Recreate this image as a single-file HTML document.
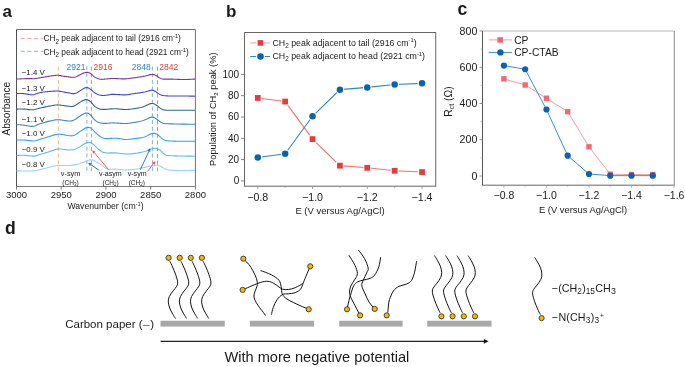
<!DOCTYPE html>
<html><head><meta charset="utf-8"><style>
html,body{margin:0;padding:0;background:#fff;}
svg{display:block;will-change:transform;}
text{font-family:"Liberation Sans", sans-serif;}
</style></head><body>
<svg width="685" height="367" viewBox="0 0 685 367">
<rect width="685" height="367" fill="#fff"/>
<g fill="#1a1a1a">
<text x="2.6" y="16.6" font-size="17" font-weight="bold">a</text>
<line x1="16.5" y1="29.5" x2="195.4" y2="29.5" stroke="#6a6a6a" stroke-width="1"/>
<line x1="195.4" y1="29.5" x2="195.4" y2="186.5" stroke="#707070" stroke-width="1"/>
<line x1="16.5" y1="186.5" x2="195.4" y2="186.5" stroke="#808080" stroke-width="1.1"/>
<line x1="16.5" y1="29.5" x2="16.5" y2="186.5" stroke="#505050" stroke-width="1"/>
<line x1="58.3" y1="66.5" x2="58.3" y2="172.3" stroke="#f7b47e" stroke-dasharray="4,2.7" stroke-width="1"/>
<line x1="86.9" y1="66.2" x2="86.9" y2="172.3" stroke="#80b4dc" stroke-dasharray="4,2.7" stroke-width="1"/>
<line x1="91.4" y1="66.6" x2="91.4" y2="172.3" stroke="#f38080" stroke-dasharray="4,2.7" stroke-width="1"/>
<line x1="152.4" y1="66.4" x2="152.4" y2="172.3" stroke="#80b4dc" stroke-dasharray="4,2.7" stroke-width="1"/>
<line x1="157.5" y1="66.8" x2="157.5" y2="172.3" stroke="#f38080" stroke-dasharray="4,2.7" stroke-width="1"/>
<path d="M16.50,79.07 L17.50,79.03 L18.50,78.98 L19.50,78.93 L20.50,78.87 L21.50,78.82 L22.50,78.77 L23.50,78.72 L24.50,78.68 L25.50,78.65 L26.50,78.63 L27.50,78.61 L28.50,78.61 L29.50,78.62 L30.50,78.64 L31.50,78.67 L32.50,78.69 L33.50,78.69 L34.50,78.64 L35.50,78.55 L36.50,78.41 L37.50,78.24 L38.50,78.07 L39.50,77.91 L40.50,77.74 L41.50,77.58 L42.50,77.41 L43.50,77.25 L44.50,77.08 L45.50,76.91 L46.50,76.75 L47.50,76.58 L48.50,76.41 L49.50,76.24 L50.50,76.07 L51.50,75.91 L52.50,75.75 L53.50,75.59 L54.50,75.45 L55.50,75.33 L56.50,75.25 L57.50,75.25 L58.50,75.32 L59.50,75.46 L60.50,75.65 L61.50,75.85 L62.50,76.04 L63.50,76.21 L64.50,76.37 L65.50,76.51 L66.50,76.65 L67.50,76.78 L68.50,76.90 L69.50,77.02 L70.50,77.13 L71.50,77.23 L72.50,77.31 L73.50,77.32 L74.50,77.20 L75.50,76.94 L76.50,76.53 L77.50,76.04 L78.50,75.51 L79.50,74.98 L80.50,74.48 L81.50,74.00 L82.50,73.55 L83.50,73.13 L84.50,72.76 L85.50,72.48 L86.50,72.32 L87.50,72.33 L88.50,72.54 L89.50,72.96 L90.50,73.57 L91.50,74.34 L92.50,75.21 L93.50,76.08 L94.50,76.86 L95.50,77.51 L96.50,78.04 L97.50,78.48 L98.50,78.83 L99.50,79.09 L100.50,79.26 L101.50,79.33 L102.50,79.31 L103.50,79.24 L104.50,79.15 L105.50,79.06 L106.50,78.96 L107.50,78.87 L108.50,78.77 L109.50,78.68 L110.50,78.61 L111.50,78.56 L112.50,78.53 L113.50,78.52 L114.50,78.54 L115.50,78.57 L116.50,78.61 L117.50,78.66 L118.50,78.72 L119.50,78.77 L120.50,78.82 L121.50,78.86 L122.50,78.89 L123.50,78.90 L124.50,78.88 L125.50,78.84 L126.50,78.78 L127.50,78.68 L128.50,78.57 L129.50,78.44 L130.50,78.30 L131.50,78.15 L132.50,78.00 L133.50,77.86 L134.50,77.72 L135.50,77.59 L136.50,77.46 L137.50,77.33 L138.50,77.19 L139.50,77.05 L140.50,76.91 L141.50,76.75 L142.50,76.59 L143.50,76.40 L144.50,76.19 L145.50,75.96 L146.50,75.70 L147.50,75.44 L148.50,75.16 L149.50,74.89 L150.50,74.65 L151.50,74.48 L152.50,74.45 L153.50,74.58 L154.50,74.85 L155.50,75.26 L156.50,75.81 L157.50,76.47 L158.50,77.19 L159.50,77.85 L160.50,78.39 L161.50,78.77 L162.50,79.00 L163.50,79.12 L164.50,79.17 L165.50,79.17 L166.50,79.16 L167.50,79.13 L168.50,79.11 L169.50,79.10 L170.50,79.11 L171.50,79.13 L172.50,79.16 L173.50,79.20 L174.50,79.23 L175.50,79.27 L176.50,79.31 L177.50,79.35 L178.50,79.39 L179.50,79.42 L180.50,79.45 L181.50,79.47 L182.50,79.48 L183.50,79.49 L184.50,79.49 L185.50,79.48 L186.50,79.45 L187.50,79.43 L188.50,79.39 L189.50,79.35 L190.50,79.31 L191.50,79.26 L192.50,79.22 L193.50,79.17 L194.50,79.14 L195.00,79.12" fill="none" stroke="#7b3a92" stroke-width="1.1" stroke-linejoin="round"/>
<path d="M16.50,93.59 L17.50,93.57 L18.50,93.55 L19.50,93.53 L20.50,93.52 L21.50,93.52 L22.50,93.55 L23.50,93.61 L24.50,93.70 L25.50,93.83 L26.50,93.98 L27.50,94.16 L28.50,94.34 L29.50,94.52 L30.50,94.67 L31.50,94.78 L32.50,94.81 L33.50,94.72 L34.50,94.48 L35.50,94.10 L36.50,93.66 L37.50,93.25 L38.50,92.93 L39.50,92.69 L40.50,92.50 L41.50,92.34 L42.50,92.19 L43.50,92.06 L44.50,91.94 L45.50,91.82 L46.50,91.71 L47.50,91.61 L48.50,91.51 L49.50,91.43 L50.50,91.35 L51.50,91.28 L52.50,91.21 L53.50,91.15 L54.50,91.10 L55.50,91.05 L56.50,91.03 L57.50,91.03 L58.50,91.10 L59.50,91.23 L60.50,91.40 L61.50,91.58 L62.50,91.77 L63.50,91.97 L64.50,92.16 L65.50,92.35 L66.50,92.53 L67.50,92.71 L68.50,92.89 L69.50,93.08 L70.50,93.28 L71.50,93.46 L72.50,93.60 L73.50,93.65 L74.50,93.57 L75.50,93.34 L76.50,92.95 L77.50,92.43 L78.50,91.82 L79.50,91.16 L80.50,90.49 L81.50,89.84 L82.50,89.21 L83.50,88.61 L84.50,88.08 L85.50,87.70 L86.50,87.55 L87.50,87.67 L88.50,88.05 L89.50,88.61 L90.50,89.32 L91.50,90.12 L92.50,90.98 L93.50,91.82 L94.50,92.58 L95.50,93.23 L96.50,93.79 L97.50,94.25 L98.50,94.65 L99.50,94.97 L100.50,95.22 L101.50,95.38 L102.50,95.45 L103.50,95.46 L104.50,95.41 L105.50,95.31 L106.50,95.18 L107.50,95.01 L108.50,94.84 L109.50,94.67 L110.50,94.53 L111.50,94.42 L112.50,94.35 L113.50,94.33 L114.50,94.34 L115.50,94.38 L116.50,94.44 L117.50,94.52 L118.50,94.59 L119.50,94.67 L120.50,94.75 L121.50,94.81 L122.50,94.86 L123.50,94.88 L124.50,94.87 L125.50,94.83 L126.50,94.75 L127.50,94.65 L128.50,94.51 L129.50,94.35 L130.50,94.18 L131.50,94.00 L132.50,93.83 L133.50,93.67 L134.50,93.52 L135.50,93.38 L136.50,93.25 L137.50,93.11 L138.50,92.98 L139.50,92.84 L140.50,92.70 L141.50,92.55 L142.50,92.39 L143.50,92.20 L144.50,92.00 L145.50,91.77 L146.50,91.51 L147.50,91.23 L148.50,90.93 L149.50,90.61 L150.50,90.32 L151.50,90.15 L152.50,90.19 L153.50,90.48 L154.50,90.97 L155.50,91.58 L156.50,92.23 L157.50,92.92 L158.50,93.60 L159.50,94.22 L160.50,94.72 L161.50,95.10 L162.50,95.37 L163.50,95.55 L164.50,95.68 L165.50,95.77 L166.50,95.84 L167.50,95.89 L168.50,95.93 L169.50,95.96 L170.50,95.99 L171.50,96.02 L172.50,96.03 L173.50,96.04 L174.50,96.05 L175.50,96.05 L176.50,96.04 L177.50,96.03 L178.50,96.02 L179.50,96.02 L180.50,96.01 L181.50,96.00 L182.50,96.00 L183.50,96.00 L184.50,96.01 L185.50,96.02 L186.50,96.03 L187.50,96.05 L188.50,96.07 L189.50,96.09 L190.50,96.11 L191.50,96.13 L192.50,96.15 L193.50,96.17 L194.50,96.18 L195.00,96.19" fill="none" stroke="#4444d2" stroke-width="1.1" stroke-linejoin="round"/>
<path d="M16.50,109.09 L17.50,109.08 L18.50,109.07 L19.50,109.06 L20.50,109.06 L21.50,109.06 L22.50,109.07 L23.50,109.10 L24.50,109.15 L25.50,109.23 L26.50,109.31 L27.50,109.41 L28.50,109.51 L29.50,109.61 L30.50,109.69 L31.50,109.74 L32.50,109.75 L33.50,109.70 L34.50,109.55 L35.50,109.32 L36.50,109.04 L37.50,108.75 L38.50,108.48 L39.50,108.23 L40.50,108.00 L41.50,107.78 L42.50,107.55 L43.50,107.34 L44.50,107.12 L45.50,106.91 L46.50,106.70 L47.50,106.50 L48.50,106.31 L49.50,106.11 L50.50,105.92 L51.50,105.73 L52.50,105.55 L53.50,105.37 L54.50,105.21 L55.50,105.07 L56.50,104.96 L57.50,104.91 L58.50,104.94 L59.50,105.03 L60.50,105.16 L61.50,105.30 L62.50,105.43 L63.50,105.57 L64.50,105.71 L65.50,105.84 L66.50,105.97 L67.50,106.08 L68.50,106.20 L69.50,106.31 L70.50,106.40 L71.50,106.44 L72.50,106.37 L73.50,106.15 L74.50,105.75 L75.50,105.22 L76.50,104.57 L77.50,103.88 L78.50,103.18 L79.50,102.51 L80.50,101.88 L81.50,101.30 L82.50,100.77 L83.50,100.28 L84.50,99.87 L85.50,99.60 L86.50,99.52 L87.50,99.69 L88.50,100.14 L89.50,100.84 L90.50,101.74 L91.50,102.80 L92.50,103.95 L93.50,105.07 L94.50,106.06 L95.50,106.87 L96.50,107.53 L97.50,108.07 L98.50,108.50 L99.50,108.86 L100.50,109.13 L101.50,109.31 L102.50,109.40 L103.50,109.42 L104.50,109.40 L105.50,109.36 L106.50,109.29 L107.50,109.20 L108.50,109.10 L109.50,109.00 L110.50,108.91 L111.50,108.83 L112.50,108.77 L113.50,108.73 L114.50,108.73 L115.50,108.76 L116.50,108.81 L117.50,108.89 L118.50,108.98 L119.50,109.07 L120.50,109.17 L121.50,109.27 L122.50,109.35 L123.50,109.42 L124.50,109.47 L125.50,109.50 L126.50,109.50 L127.50,109.47 L128.50,109.40 L129.50,109.31 L130.50,109.20 L131.50,109.07 L132.50,108.93 L133.50,108.78 L134.50,108.63 L135.50,108.46 L136.50,108.29 L137.50,108.12 L138.50,107.93 L139.50,107.72 L140.50,107.50 L141.50,107.24 L142.50,106.95 L143.50,106.61 L144.50,106.22 L145.50,105.80 L146.50,105.35 L147.50,104.89 L148.50,104.44 L149.50,104.01 L150.50,103.64 L151.50,103.43 L152.50,103.45 L153.50,103.69 L154.50,104.11 L155.50,104.64 L156.50,105.25 L157.50,105.94 L158.50,106.73 L159.50,107.58 L160.50,108.40 L161.50,109.07 L162.50,109.56 L163.50,109.87 L164.50,110.06 L165.50,110.16 L166.50,110.21 L167.50,110.23 L168.50,110.23 L169.50,110.22 L170.50,110.21 L171.50,110.20 L172.50,110.20 L173.50,110.20 L174.50,110.21 L175.50,110.22 L176.50,110.22 L177.50,110.23 L178.50,110.23 L179.50,110.23 L180.50,110.23 L181.50,110.23 L182.50,110.23 L183.50,110.23 L184.50,110.23 L185.50,110.22 L186.50,110.22 L187.50,110.22 L188.50,110.22 L189.50,110.21 L190.50,110.21 L191.50,110.21 L192.50,110.20 L193.50,110.20 L194.50,110.20 L195.00,110.20" fill="none" stroke="#2e6592" stroke-width="1.1" stroke-linejoin="round"/>
<path d="M16.50,124.64 L17.50,124.68 L18.50,124.74 L19.50,124.81 L20.50,124.89 L21.50,124.97 L22.50,125.07 L23.50,125.17 L24.50,125.30 L25.50,125.46 L26.50,125.63 L27.50,125.81 L28.50,125.99 L29.50,126.16 L30.50,126.30 L31.50,126.40 L32.50,126.42 L33.50,126.32 L34.50,126.07 L35.50,125.67 L36.50,125.19 L37.50,124.71 L38.50,124.29 L39.50,123.92 L40.50,123.59 L41.50,123.28 L42.50,122.98 L43.50,122.69 L44.50,122.41 L45.50,122.13 L46.50,121.86 L47.50,121.61 L48.50,121.36 L49.50,121.12 L50.50,120.89 L51.50,120.67 L52.50,120.46 L53.50,120.26 L54.50,120.07 L55.50,119.90 L56.50,119.77 L57.50,119.69 L58.50,119.68 L59.50,119.76 L60.50,119.88 L61.50,120.02 L62.50,120.17 L63.50,120.33 L64.50,120.49 L65.50,120.64 L66.50,120.78 L67.50,120.89 L68.50,120.96 L69.50,121.00 L70.50,120.98 L71.50,120.88 L72.50,120.66 L73.50,120.31 L74.50,119.82 L75.50,119.22 L76.50,118.53 L77.50,117.79 L78.50,117.05 L79.50,116.34 L80.50,115.68 L81.50,115.05 L82.50,114.47 L83.50,113.93 L84.50,113.47 L85.50,113.13 L86.50,112.97 L87.50,113.04 L88.50,113.39 L89.50,114.03 L90.50,114.95 L91.50,116.10 L92.50,117.39 L93.50,118.66 L94.50,119.78 L95.50,120.67 L96.50,121.35 L97.50,121.89 L98.50,122.32 L99.50,122.67 L100.50,122.95 L101.50,123.16 L102.50,123.30 L103.50,123.36 L104.50,123.38 L105.50,123.37 L106.50,123.33 L107.50,123.27 L108.50,123.20 L109.50,123.12 L110.50,123.05 L111.50,122.99 L112.50,122.95 L113.50,122.92 L114.50,122.93 L115.50,122.96 L116.50,123.01 L117.50,123.08 L118.50,123.17 L119.50,123.25 L120.50,123.34 L121.50,123.42 L122.50,123.49 L123.50,123.54 L124.50,123.57 L125.50,123.56 L126.50,123.52 L127.50,123.44 L128.50,123.32 L129.50,123.18 L130.50,123.03 L131.50,122.87 L132.50,122.72 L133.50,122.56 L134.50,122.41 L135.50,122.24 L136.50,122.08 L137.50,121.90 L138.50,121.72 L139.50,121.52 L140.50,121.29 L141.50,121.04 L142.50,120.75 L143.50,120.42 L144.50,120.03 L145.50,119.61 L146.50,119.16 L147.50,118.70 L148.50,118.22 L149.50,117.75 L150.50,117.33 L151.50,117.08 L152.50,117.08 L153.50,117.34 L154.50,117.80 L155.50,118.37 L156.50,119.01 L157.50,119.70 L158.50,120.46 L159.50,121.26 L160.50,122.01 L161.50,122.63 L162.50,123.08 L163.50,123.38 L164.50,123.57 L165.50,123.69 L166.50,123.76 L167.50,123.80 L168.50,123.82 L169.50,123.83 L170.50,123.85 L171.50,123.86 L172.50,123.88 L173.50,123.91 L174.50,123.93 L175.50,123.96 L176.50,123.98 L177.50,124.00 L178.50,124.02 L179.50,124.04 L180.50,124.06 L181.50,124.08 L182.50,124.10 L183.50,124.12 L184.50,124.13 L185.50,124.15 L186.50,124.16 L187.50,124.18 L188.50,124.20 L189.50,124.21 L190.50,124.23 L191.50,124.24 L192.50,124.26 L193.50,124.27 L194.50,124.29 L195.00,124.29" fill="none" stroke="#3f86c6" stroke-width="1.1" stroke-linejoin="round"/>
<path d="M16.50,139.99 L17.50,139.98 L18.50,139.96 L19.50,139.94 L20.50,139.93 L21.50,139.94 L22.50,139.96 L23.50,140.00 L24.50,140.07 L25.50,140.16 L26.50,140.27 L27.50,140.39 L28.50,140.52 L29.50,140.65 L30.50,140.77 L31.50,140.88 L32.50,140.97 L33.50,141.02 L34.50,140.99 L35.50,140.83 L36.50,140.54 L37.50,140.16 L38.50,139.79 L39.50,139.45 L40.50,139.14 L41.50,138.84 L42.50,138.55 L43.50,138.25 L44.50,137.96 L45.50,137.67 L46.50,137.38 L47.50,137.09 L48.50,136.78 L49.50,136.46 L50.50,136.13 L51.50,135.79 L52.50,135.46 L53.50,135.15 L54.50,134.87 L55.50,134.63 L56.50,134.44 L57.50,134.30 L58.50,134.24 L59.50,134.23 L60.50,134.29 L61.50,134.40 L62.50,134.54 L63.50,134.71 L64.50,134.89 L65.50,135.08 L66.50,135.26 L67.50,135.43 L68.50,135.58 L69.50,135.70 L70.50,135.81 L71.50,135.86 L72.50,135.79 L73.50,135.55 L74.50,135.16 L75.50,134.62 L76.50,133.97 L77.50,133.27 L78.50,132.55 L79.50,131.84 L80.50,131.15 L81.50,130.49 L82.50,129.84 L83.50,129.20 L84.50,128.59 L85.50,128.05 L86.50,127.62 L87.50,127.34 L88.50,127.27 L89.50,127.44 L90.50,127.87 L91.50,128.56 L92.50,129.46 L93.50,130.49 L94.50,131.53 L95.50,132.53 L96.50,133.48 L97.50,134.38 L98.50,135.23 L99.50,136.01 L100.50,136.72 L101.50,137.34 L102.50,137.85 L103.50,138.22 L104.50,138.45 L105.50,138.57 L106.50,138.61 L107.50,138.60 L108.50,138.55 L109.50,138.48 L110.50,138.40 L111.50,138.33 L112.50,138.27 L113.50,138.23 L114.50,138.21 L115.50,138.24 L116.50,138.30 L117.50,138.39 L118.50,138.51 L119.50,138.66 L120.50,138.81 L121.50,138.97 L122.50,139.12 L123.50,139.25 L124.50,139.36 L125.50,139.44 L126.50,139.47 L127.50,139.46 L128.50,139.40 L129.50,139.31 L130.50,139.19 L131.50,139.05 L132.50,138.90 L133.50,138.76 L134.50,138.63 L135.50,138.50 L136.50,138.38 L137.50,138.26 L138.50,138.13 L139.50,138.00 L140.50,137.85 L141.50,137.69 L142.50,137.50 L143.50,137.28 L144.50,136.99 L145.50,136.61 L146.50,136.12 L147.50,135.55 L148.50,134.95 L149.50,134.40 L150.50,133.95 L151.50,133.61 L152.50,133.39 L153.50,133.31 L154.50,133.38 L155.50,133.61 L156.50,134.01 L157.50,134.60 L158.50,135.36 L159.50,136.25 L160.50,137.19 L161.50,138.10 L162.50,138.91 L163.50,139.56 L164.50,140.05 L165.50,140.41 L166.50,140.65 L167.50,140.81 L168.50,140.90 L169.50,140.96 L170.50,141.00 L171.50,141.04 L172.50,141.07 L173.50,141.10 L174.50,141.14 L175.50,141.16 L176.50,141.19 L177.50,141.20 L178.50,141.22 L179.50,141.23 L180.50,141.24 L181.50,141.25 L182.50,141.26 L183.50,141.26 L184.50,141.27 L185.50,141.27 L186.50,141.27 L187.50,141.28 L188.50,141.28 L189.50,141.28 L190.50,141.28 L191.50,141.29 L192.50,141.29 L193.50,141.29 L194.50,141.30 L195.00,141.30" fill="none" stroke="#35a0ee" stroke-width="1.1" stroke-linejoin="round"/>
<path d="M16.50,155.48 L17.50,155.44 L18.50,155.40 L19.50,155.35 L20.50,155.32 L21.50,155.30 L22.50,155.29 L23.50,155.31 L24.50,155.36 L25.50,155.42 L26.50,155.51 L27.50,155.61 L28.50,155.72 L29.50,155.83 L30.50,155.94 L31.50,156.03 L32.50,156.10 L33.50,156.14 L34.50,156.09 L35.50,155.93 L36.50,155.63 L37.50,155.26 L38.50,154.89 L39.50,154.57 L40.50,154.28 L41.50,154.00 L42.50,153.72 L43.50,153.44 L44.50,153.16 L45.50,152.88 L46.50,152.59 L47.50,152.28 L48.50,151.95 L49.50,151.61 L50.50,151.24 L51.50,150.87 L52.50,150.50 L53.50,150.15 L54.50,149.82 L55.50,149.54 L56.50,149.30 L57.50,149.12 L58.50,149.02 L59.50,148.98 L60.50,149.00 L61.50,149.07 L62.50,149.18 L63.50,149.31 L64.50,149.46 L65.50,149.61 L66.50,149.75 L67.50,149.87 L68.50,149.96 L69.50,150.01 L70.50,150.02 L71.50,149.97 L72.50,149.84 L73.50,149.62 L74.50,149.31 L75.50,148.93 L76.50,148.50 L77.50,148.02 L78.50,147.51 L79.50,146.97 L80.50,146.39 L81.50,145.75 L82.50,145.06 L83.50,144.36 L84.50,143.72 L85.50,143.19 L86.50,142.79 L87.50,142.53 L88.50,142.39 L89.50,142.37 L90.50,142.57 L91.50,143.01 L92.50,143.69 L93.50,144.53 L94.50,145.44 L95.50,146.38 L96.50,147.34 L97.50,148.30 L98.50,149.21 L99.50,150.06 L100.50,150.82 L101.50,151.47 L102.50,151.99 L103.50,152.38 L104.50,152.64 L105.50,152.80 L106.50,152.89 L107.50,152.93 L108.50,152.93 L109.50,152.92 L110.50,152.90 L111.50,152.88 L112.50,152.87 L113.50,152.87 L114.50,152.88 L115.50,152.92 L116.50,152.99 L117.50,153.08 L118.50,153.19 L119.50,153.30 L120.50,153.43 L121.50,153.55 L122.50,153.68 L123.50,153.79 L124.50,153.88 L125.50,153.95 L126.50,154.00 L127.50,154.02 L128.50,154.02 L129.50,153.99 L130.50,153.94 L131.50,153.86 L132.50,153.76 L133.50,153.64 L134.50,153.51 L135.50,153.36 L136.50,153.20 L137.50,153.03 L138.50,152.85 L139.50,152.66 L140.50,152.46 L141.50,152.25 L142.50,152.03 L143.50,151.80 L144.50,151.54 L145.50,151.24 L146.50,150.90 L147.50,150.51 L148.50,150.11 L149.50,149.70 L150.50,149.31 L151.50,148.96 L152.50,148.64 L153.50,148.40 L154.50,148.25 L155.50,148.23 L156.50,148.37 L157.50,148.69 L158.50,149.19 L159.50,149.87 L160.50,150.69 L161.50,151.62 L162.50,152.58 L163.50,153.48 L164.50,154.23 L165.50,154.79 L166.50,155.18 L167.50,155.43 L168.50,155.57 L169.50,155.65 L170.50,155.70 L171.50,155.74 L172.50,155.77 L173.50,155.81 L174.50,155.84 L175.50,155.87 L176.50,155.90 L177.50,155.93 L178.50,155.95 L179.50,155.97 L180.50,155.99 L181.50,156.01 L182.50,156.02 L183.50,156.04 L184.50,156.05 L185.50,156.07 L186.50,156.08 L187.50,156.10 L188.50,156.11 L189.50,156.12 L190.50,156.14 L191.50,156.15 L192.50,156.16 L193.50,156.18 L194.50,156.19 L195.00,156.19" fill="none" stroke="#62b8f2" stroke-width="1.1" stroke-linejoin="round"/>
<path d="M16.50,170.82 L17.50,170.84 L18.50,170.87 L19.50,170.91 L20.50,170.94 L21.50,170.96 L22.50,170.98 L23.50,170.99 L24.50,171.00 L25.50,171.01 L26.50,171.01 L27.50,171.02 L28.50,171.02 L29.50,171.01 L30.50,170.99 L31.50,170.97 L32.50,170.92 L33.50,170.85 L34.50,170.76 L35.50,170.63 L36.50,170.47 L37.50,170.27 L38.50,170.05 L39.50,169.81 L40.50,169.55 L41.50,169.30 L42.50,169.05 L43.50,168.80 L44.50,168.55 L45.50,168.29 L46.50,168.03 L47.50,167.77 L48.50,167.52 L49.50,167.27 L50.50,167.03 L51.50,166.78 L52.50,166.53 L53.50,166.29 L54.50,166.07 L55.50,165.87 L56.50,165.71 L57.50,165.58 L58.50,165.50 L59.50,165.45 L60.50,165.43 L61.50,165.43 L62.50,165.45 L63.50,165.47 L64.50,165.49 L65.50,165.51 L66.50,165.52 L67.50,165.51 L68.50,165.48 L69.50,165.43 L70.50,165.35 L71.50,165.26 L72.50,165.14 L73.50,165.00 L74.50,164.84 L75.50,164.66 L76.50,164.46 L77.50,164.22 L78.50,163.96 L79.50,163.67 L80.50,163.35 L81.50,163.01 L82.50,162.66 L83.50,162.29 L84.50,161.89 L85.50,161.48 L86.50,161.06 L87.50,160.65 L88.50,160.30 L89.50,160.03 L90.50,159.88 L91.50,159.87 L92.50,160.01 L93.50,160.31 L94.50,160.74 L95.50,161.28 L96.50,161.87 L97.50,162.47 L98.50,163.06 L99.50,163.65 L100.50,164.24 L101.50,164.87 L102.50,165.59 L103.50,166.42 L104.50,167.32 L105.50,168.15 L106.50,168.79 L107.50,169.19 L108.50,169.38 L109.50,169.43 L110.50,169.39 L111.50,169.32 L112.50,169.24 L113.50,169.17 L114.50,169.13 L115.50,169.14 L116.50,169.18 L117.50,169.26 L118.50,169.36 L119.50,169.47 L120.50,169.58 L121.50,169.69 L122.50,169.79 L123.50,169.87 L124.50,169.93 L125.50,169.97 L126.50,169.98 L127.50,169.96 L128.50,169.92 L129.50,169.86 L130.50,169.79 L131.50,169.70 L132.50,169.60 L133.50,169.49 L134.50,169.37 L135.50,169.23 L136.50,169.09 L137.50,168.92 L138.50,168.74 L139.50,168.53 L140.50,168.31 L141.50,168.08 L142.50,167.85 L143.50,167.61 L144.50,167.38 L145.50,167.15 L146.50,166.94 L147.50,166.73 L148.50,166.52 L149.50,166.32 L150.50,166.13 L151.50,165.95 L152.50,165.77 L153.50,165.60 L154.50,165.44 L155.50,165.30 L156.50,165.22 L157.50,165.23 L158.50,165.40 L159.50,165.74 L160.50,166.24 L161.50,166.83 L162.50,167.46 L163.50,168.08 L164.50,168.65 L165.50,169.13 L166.50,169.52 L167.50,169.81 L168.50,170.02 L169.50,170.16 L170.50,170.25 L171.50,170.30 L172.50,170.33 L173.50,170.35 L174.50,170.37 L175.50,170.39 L176.50,170.41 L177.50,170.42 L178.50,170.43 L179.50,170.44 L180.50,170.45 L181.50,170.45 L182.50,170.45 L183.50,170.45 L184.50,170.45 L185.50,170.45 L186.50,170.44 L187.50,170.44 L188.50,170.43 L189.50,170.43 L190.50,170.42 L191.50,170.42 L192.50,170.41 L193.50,170.41 L194.50,170.40 L195.00,170.40" fill="none" stroke="#98d2f8" stroke-width="1.1" stroke-linejoin="round"/>
<text x="21.7" y="75.1" font-size="7.9">−1.4 V</text>
<text x="21.7" y="90.7" font-size="7.9">−1.3 V</text>
<text x="21.7" y="105.4" font-size="7.9">−1.2 V</text>
<text x="21.7" y="121.5" font-size="7.9">−1.1 V</text>
<text x="21.7" y="136.2" font-size="7.9">−1.0 V</text>
<text x="21.7" y="151.6" font-size="7.9">−0.9 V</text>
<text x="21.7" y="167.3" font-size="7.9">−0.8 V</text>
<text x="66.5" y="69.5" font-size="8.5" fill="#2f86c4">2921</text>
<text x="93.6" y="69.5" font-size="8.5" fill="#e03a3a">2916</text>
<text x="131.8" y="69.5" font-size="8.5" fill="#2f86c4">2848</text>
<text x="159.3" y="69.5" font-size="8.5" fill="#e03a3a">2842</text>
<line x1="108.6" y1="169.7" x2="94.35" y2="152.66" stroke="#f05050" stroke-width="0.9"/><polygon points="92.3,150.2 95.58,151.63 93.12,153.68" fill="#f05050"/>
<line x1="99.2" y1="170.3" x2="90.87" y2="164.77" stroke="#1f5f9f" stroke-width="0.9"/><polygon points="88.2,163.0 91.75,163.44 89.98,166.10" fill="#1f5f9f"/>
<line x1="140.3" y1="169.7" x2="148.95" y2="151.20" stroke="#1f6fb0" stroke-width="0.9"/><polygon points="150.3,148.3 150.39,151.88 147.50,150.52" fill="#1f6fb0"/>
<line x1="147.5" y1="171.4" x2="153.44" y2="163.73" stroke="#f05050" stroke-width="0.9"/><polygon points="155.4,161.2 154.71,164.71 152.18,162.75" fill="#f05050"/>
<text x="60.8" y="176.2" font-size="7.3">v-sym</text>
<text x="62.2" y="184.6" font-size="6.6">(CH<tspan font-size="4.5" dy="1.6">3</tspan><tspan dy="-1.6">)</tspan></text>
<text x="98.9" y="176.1" font-size="7.1">v-asym</text>
<text x="102.5" y="184.6" font-size="6.5">(CH<tspan font-size="4.5" dy="1.6">2</tspan><tspan dy="-1.6">)</tspan></text>
<text x="127.7" y="175.9" font-size="7.1">v-sym</text>
<text x="128.7" y="184.6" font-size="6.5">(CH<tspan font-size="4.5" dy="1.6">2</tspan><tspan dy="-1.6">)</tspan></text>
<line x1="20.7" y1="38.4" x2="43" y2="38.4" stroke="#f59a9a" stroke-dasharray="4,2.7" stroke-width="1"/>
<line x1="20.7" y1="51.3" x2="43" y2="51.3" stroke="#85b8e0" stroke-dasharray="4,2.7" stroke-width="1"/>
<text x="43.4" y="41.4" font-size="8.4">CH<tspan font-size="6.3" dy="2.3">2</tspan><tspan dy="-2.3"> peak adjacent to tail (2916 cm</tspan><tspan font-size="5.6" dy="-3">-1</tspan><tspan dy="3">)</tspan></text>
<text x="43.4" y="54.5" font-size="8.4">CH<tspan font-size="6.3" dy="2.3">2</tspan><tspan dy="-2.3"> peak adjacent to head (2921 cm</tspan><tspan font-size="5.6" dy="-3">-1</tspan><tspan dy="3">)</tspan></text>
<line x1="16.50" y1="186.5" x2="16.50" y2="189.5" stroke="#555" stroke-width="0.8"/>
<text x="16.50" y="198.4" font-size="9.5" text-anchor="middle">3000</text>
<line x1="61.23" y1="186.5" x2="61.23" y2="189.5" stroke="#555" stroke-width="0.8"/>
<text x="61.23" y="198.4" font-size="9.5" text-anchor="middle">2950</text>
<line x1="105.95" y1="186.5" x2="105.95" y2="189.5" stroke="#555" stroke-width="0.8"/>
<text x="105.95" y="198.4" font-size="9.5" text-anchor="middle">2900</text>
<line x1="150.68" y1="186.5" x2="150.68" y2="189.5" stroke="#555" stroke-width="0.8"/>
<text x="150.68" y="198.4" font-size="9.5" text-anchor="middle">2850</text>
<line x1="195.40" y1="186.5" x2="195.40" y2="189.5" stroke="#555" stroke-width="0.8"/>
<text x="195.40" y="198.4" font-size="9.5" text-anchor="middle">2800</text>
<text x="105.5" y="209.3" font-size="8.7" text-anchor="middle">Wavenumber (cm<tspan font-size="5.7" dy="-3">-1</tspan><tspan dy="3">)</tspan></text>
<text transform="translate(9.8,108.7) rotate(-90)" font-size="10" text-anchor="middle">Absorbance</text>
<text x="226" y="16.8" font-size="17" font-weight="bold">b</text>
<rect x="244.5" y="32.5" width="191.2" height="153.7" fill="none" stroke="#666" stroke-width="1"/>
<line x1="241.0" y1="180.90" x2="244.5" y2="180.90" stroke="#666" stroke-width="0.8"/>
<text x="239.2" y="184.10" font-size="10" text-anchor="end">0</text>
<line x1="241.0" y1="159.60" x2="244.5" y2="159.60" stroke="#666" stroke-width="0.8"/>
<text x="239.2" y="162.80" font-size="10" text-anchor="end">20</text>
<line x1="241.0" y1="138.30" x2="244.5" y2="138.30" stroke="#666" stroke-width="0.8"/>
<text x="239.2" y="141.50" font-size="10" text-anchor="end">40</text>
<line x1="241.0" y1="117.00" x2="244.5" y2="117.00" stroke="#666" stroke-width="0.8"/>
<text x="239.2" y="120.20" font-size="10" text-anchor="end">60</text>
<line x1="241.0" y1="95.70" x2="244.5" y2="95.70" stroke="#666" stroke-width="0.8"/>
<text x="239.2" y="98.90" font-size="10" text-anchor="end">80</text>
<line x1="241.0" y1="74.40" x2="244.5" y2="74.40" stroke="#666" stroke-width="0.8"/>
<text x="239.2" y="77.60" font-size="10" text-anchor="end">100</text>
<line x1="257.80" y1="186.2" x2="257.80" y2="189.0" stroke="#888" stroke-width="0.8"/>
<text x="257.80" y="200.6" font-size="10.6" text-anchor="middle">−0.8</text>
<line x1="285.17" y1="186.2" x2="285.17" y2="187.7" stroke="#888" stroke-width="0.8"/>
<line x1="312.54" y1="186.2" x2="312.54" y2="189.0" stroke="#888" stroke-width="0.8"/>
<text x="312.54" y="200.6" font-size="10.6" text-anchor="middle">−1.0</text>
<line x1="339.91" y1="186.2" x2="339.91" y2="187.7" stroke="#888" stroke-width="0.8"/>
<line x1="367.28" y1="186.2" x2="367.28" y2="189.0" stroke="#888" stroke-width="0.8"/>
<text x="367.28" y="200.6" font-size="10.6" text-anchor="middle">−1.2</text>
<line x1="394.65" y1="186.2" x2="394.65" y2="187.7" stroke="#888" stroke-width="0.8"/>
<line x1="422.02" y1="186.2" x2="422.02" y2="189.0" stroke="#888" stroke-width="0.8"/>
<text x="422.02" y="200.6" font-size="10.6" text-anchor="middle">−1.4</text>
<text x="340" y="214" font-size="9.5" text-anchor="middle">E (V versus Ag/AgCl)</text>
<text transform="translate(215.6,109.2) rotate(-90)" font-size="9.3" text-anchor="middle">Population of CH<tspan font-size="6.2" dy="2">2</tspan><tspan dy="-2"> peak (%)</tspan></text>
<polyline points="257.80,97.94 285.17,101.56 312.54,139.15 339.91,165.67 367.28,167.80 394.65,170.78 422.02,172.06" fill="none" stroke="#f27272" stroke-width="1.1"/>
<polyline points="257.80,157.58 285.17,153.74 312.54,116.25 339.91,89.63 367.28,87.39 394.65,84.52 422.02,83.35" fill="none" stroke="#3584c4" stroke-width="1.1"/>
<rect x="253.90" y="94.04" width="7.8" height="7.8" fill="#fff"/>
<rect x="254.90" y="95.04" width="5.8" height="5.8" fill="#e83a42"/>
<rect x="281.27" y="97.66" width="7.8" height="7.8" fill="#fff"/>
<rect x="282.27" y="98.66" width="5.8" height="5.8" fill="#e83a42"/>
<rect x="308.64" y="135.25" width="7.8" height="7.8" fill="#fff"/>
<rect x="309.64" y="136.25" width="5.8" height="5.8" fill="#e83a42"/>
<rect x="336.01" y="161.77" width="7.8" height="7.8" fill="#fff"/>
<rect x="337.01" y="162.77" width="5.8" height="5.8" fill="#e83a42"/>
<rect x="363.38" y="163.90" width="7.8" height="7.8" fill="#fff"/>
<rect x="364.38" y="164.90" width="5.8" height="5.8" fill="#e83a42"/>
<rect x="390.75" y="166.88" width="7.8" height="7.8" fill="#fff"/>
<rect x="391.75" y="167.88" width="5.8" height="5.8" fill="#e83a42"/>
<rect x="418.12" y="168.16" width="7.8" height="7.8" fill="#fff"/>
<rect x="419.12" y="169.16" width="5.8" height="5.8" fill="#e83a42"/>
<circle cx="257.80" cy="157.58" r="4.3" fill="#fff"/>
<circle cx="257.80" cy="157.58" r="3.25" fill="#0d62ad"/>
<circle cx="285.17" cy="153.74" r="4.3" fill="#fff"/>
<circle cx="285.17" cy="153.74" r="3.25" fill="#0d62ad"/>
<circle cx="312.54" cy="116.25" r="4.3" fill="#fff"/>
<circle cx="312.54" cy="116.25" r="3.25" fill="#0d62ad"/>
<circle cx="339.91" cy="89.63" r="4.3" fill="#fff"/>
<circle cx="339.91" cy="89.63" r="3.25" fill="#0d62ad"/>
<circle cx="367.28" cy="87.39" r="4.3" fill="#fff"/>
<circle cx="367.28" cy="87.39" r="3.25" fill="#0d62ad"/>
<circle cx="394.65" cy="84.52" r="4.3" fill="#fff"/>
<circle cx="394.65" cy="84.52" r="3.25" fill="#0d62ad"/>
<circle cx="422.02" cy="83.35" r="4.3" fill="#fff"/>
<circle cx="422.02" cy="83.35" r="3.25" fill="#0d62ad"/>
<line x1="250.2" y1="42.9" x2="270.1" y2="42.9" stroke="#f4a0a0" stroke-width="1"/>
<rect x="256.5" y="39.1" width="7.8" height="7.8" fill="#fff"/>
<rect x="257.6" y="40.1" width="5.6" height="5.6" fill="#e83a42"/>
<line x1="250.2" y1="56.5" x2="270.1" y2="56.5" stroke="#3584c4" stroke-width="1"/>
<circle cx="260.5" cy="56.5" r="4.4" fill="#fff"/>
<circle cx="260.5" cy="56.5" r="3.3" fill="#0d62ad"/>
<text x="272.5" y="45.6" font-size="8.8">CH<tspan font-size="6.4" dy="2.2">2</tspan><tspan dy="-2.2"> peak adjacent to tail (2916 cm</tspan><tspan font-size="5.8" dy="-3.2">-1</tspan><tspan dy="3.2">)</tspan></text>
<text x="272.5" y="58.9" font-size="8.8">CH<tspan font-size="6.4" dy="2.2">2</tspan><tspan dy="-2.2"> peak adjacent to head (2921 cm</tspan><tspan font-size="5.8" dy="-3.2">-1</tspan><tspan dy="3.2">)</tspan></text>
<text x="457.4" y="15.4" font-size="17.6" font-weight="bold">c</text>
<line x1="482.5" y1="31.0" x2="674.3" y2="31.0" stroke="#bbb" stroke-width="1"/>
<line x1="674.3" y1="31.0" x2="674.3" y2="185.2" stroke="#888" stroke-width="1"/>
<line x1="482.5" y1="31.0" x2="482.5" y2="185.2" stroke="#555" stroke-width="1"/>
<line x1="482.5" y1="185.2" x2="674.3" y2="185.2" stroke="#666" stroke-width="1"/>
<line x1="479.5" y1="176.00" x2="482.5" y2="176.00" stroke="#777" stroke-width="0.8"/>
<text x="477.3" y="179.70" font-size="10.6" text-anchor="end">0</text>
<line x1="479.5" y1="139.75" x2="482.5" y2="139.75" stroke="#777" stroke-width="0.8"/>
<text x="477.3" y="143.45" font-size="10.6" text-anchor="end">200</text>
<line x1="479.5" y1="103.50" x2="482.5" y2="103.50" stroke="#777" stroke-width="0.8"/>
<text x="477.3" y="107.20" font-size="10.6" text-anchor="end">400</text>
<line x1="479.5" y1="67.25" x2="482.5" y2="67.25" stroke="#777" stroke-width="0.8"/>
<text x="477.3" y="70.95" font-size="10.6" text-anchor="end">600</text>
<line x1="479.5" y1="31.00" x2="482.5" y2="31.00" stroke="#777" stroke-width="0.8"/>
<text x="477.3" y="34.70" font-size="10.6" text-anchor="end">800</text>
<line x1="480.5" y1="157.88" x2="482.5" y2="157.88" stroke="#999" stroke-width="0.6"/>
<line x1="480.5" y1="121.62" x2="482.5" y2="121.62" stroke="#999" stroke-width="0.6"/>
<line x1="480.5" y1="85.38" x2="482.5" y2="85.38" stroke="#999" stroke-width="0.6"/>
<line x1="480.5" y1="49.12" x2="482.5" y2="49.12" stroke="#999" stroke-width="0.6"/>
<line x1="482.63" y1="185.2" x2="482.63" y2="186.7" stroke="#999" stroke-width="0.7"/>
<line x1="503.90" y1="185.2" x2="503.90" y2="187.89999999999998" stroke="#999" stroke-width="0.7"/>
<text x="503.90" y="198.9" font-size="10.5" text-anchor="middle">−0.8</text>
<line x1="525.17" y1="185.2" x2="525.17" y2="186.7" stroke="#999" stroke-width="0.7"/>
<line x1="546.44" y1="185.2" x2="546.44" y2="187.89999999999998" stroke="#999" stroke-width="0.7"/>
<text x="546.44" y="198.9" font-size="10.5" text-anchor="middle">−1.0</text>
<line x1="567.71" y1="185.2" x2="567.71" y2="186.7" stroke="#999" stroke-width="0.7"/>
<line x1="588.98" y1="185.2" x2="588.98" y2="187.89999999999998" stroke="#999" stroke-width="0.7"/>
<text x="588.98" y="198.9" font-size="10.5" text-anchor="middle">−1.2</text>
<line x1="610.25" y1="185.2" x2="610.25" y2="186.7" stroke="#999" stroke-width="0.7"/>
<line x1="631.52" y1="185.2" x2="631.52" y2="187.89999999999998" stroke="#999" stroke-width="0.7"/>
<text x="631.52" y="198.9" font-size="10.5" text-anchor="middle">−1.4</text>
<line x1="652.79" y1="185.2" x2="652.79" y2="186.7" stroke="#999" stroke-width="0.7"/>
<line x1="674.06" y1="185.2" x2="674.06" y2="187.89999999999998" stroke="#999" stroke-width="0.7"/>
<text x="674.06" y="198.9" font-size="10.5" text-anchor="middle">−1.6</text>
<text x="583" y="213" font-size="9.4" text-anchor="middle">E (V versus Ag/AgCl)</text>
<text transform="translate(451.6,101.5) rotate(-90)" font-size="10.3" text-anchor="middle">R<tspan font-size="7" dy="2.2">ct</tspan><tspan dy="-2.2"> (Ω)</tspan></text>
<polyline points="503.90,78.85 525.17,85.01 546.44,98.24 567.71,111.66 588.98,146.82 610.25,174.19 631.52,174.55 652.79,174.55" fill="none" stroke="#f6a0a0" stroke-width="1"/>
<rect x="501.20" y="76.15" width="5.4" height="5.4" fill="#f56670"/>
<rect x="522.47" y="82.31" width="5.4" height="5.4" fill="#f56670"/>
<rect x="543.74" y="95.54" width="5.4" height="5.4" fill="#f56670"/>
<rect x="565.01" y="108.96" width="5.4" height="5.4" fill="#f56670"/>
<rect x="586.28" y="144.12" width="5.4" height="5.4" fill="#f56670"/>
<rect x="607.55" y="171.49" width="5.4" height="5.4" fill="#f56670"/>
<rect x="628.82" y="171.85" width="5.4" height="5.4" fill="#f56670"/>
<rect x="650.09" y="171.85" width="5.4" height="5.4" fill="#f56670"/>
<polyline points="503.90,65.62 525.17,69.24 546.44,109.48 567.71,155.70 588.98,174.01 610.25,175.64 631.52,175.64 652.79,175.64" fill="none" stroke="#3f8fd0" stroke-width="1"/>
<circle cx="503.90" cy="65.62" r="3.1" fill="#0d62ad"/>
<circle cx="525.17" cy="69.24" r="3.1" fill="#0d62ad"/>
<circle cx="546.44" cy="109.48" r="3.1" fill="#0d62ad"/>
<circle cx="567.71" cy="155.70" r="3.1" fill="#0d62ad"/>
<circle cx="588.98" cy="174.01" r="3.1" fill="#0d62ad"/>
<circle cx="610.25" cy="175.64" r="3.1" fill="#0d62ad"/>
<circle cx="631.52" cy="175.64" r="3.1" fill="#0d62ad"/>
<circle cx="652.79" cy="175.64" r="3.1" fill="#0d62ad"/>
<line x1="488.7" y1="39.9" x2="512" y2="39.9" stroke="#f4a0a0" stroke-width="1"/>
<rect x="497.4" y="37.2" width="5.5" height="5.5" fill="#f06670"/>
<line x1="488.7" y1="52.4" x2="512" y2="52.4" stroke="#3f8fd0" stroke-width="1"/>
<circle cx="500.4" cy="52.4" r="3.2" fill="#0d62ad"/>
<text x="514.2" y="43.7" font-size="10.3">CP</text>
<text x="514.2" y="55.9" font-size="10.3">CP-CTAB</text>
<text x="5.1" y="233.5" font-size="17.6" font-weight="bold">d</text>
<rect x="160.5" y="320.75" width="64.30000000000001" height="5.8" fill="#a8a8a8"/>
<rect x="249.8" y="320.75" width="64.30000000000001" height="5.8" fill="#a8a8a8"/>
<rect x="339.2" y="320.75" width="63.400000000000034" height="5.8" fill="#a8a8a8"/>
<rect x="427.2" y="320.75" width="64.30000000000001" height="5.8" fill="#a8a8a8"/>
<text x="65.2" y="328.4" font-size="11.5">Carbon paper (<tspan dx="0.6" fill="#555">–</tspan><tspan dx="0.6">)</tspan></text>
<line x1="160.6" y1="341.3" x2="485" y2="341.3" stroke="#222" stroke-width="1.15"/>
<polygon points="488.5,341.3 483.8,338.9 483.8,343.7" fill="#111"/>
<text x="224.4" y="361.9" font-size="14.6">With more negative potential</text>
<path d="M169.90,261.30 C170.35,262.25 171.67,264.85 172.60,267.00 C173.53,269.15 174.67,271.73 175.50,274.20 C176.33,276.67 177.40,279.80 177.60,281.80 C177.80,283.80 177.45,284.68 176.70,286.20 C175.95,287.72 174.33,289.17 173.10,290.90 C171.87,292.63 170.10,294.78 169.30,296.60 C168.50,298.42 168.23,299.90 168.30,301.80 C168.37,303.70 168.98,306.00 169.70,308.00 C170.42,310.00 171.63,312.05 172.60,313.80 C173.57,315.55 175.02,317.72 175.50,318.50" fill="none" stroke="#111" stroke-width="1"/>
<path d="M181.00,261.30 C181.45,262.25 182.77,264.85 183.70,267.00 C184.63,269.15 185.77,271.73 186.60,274.20 C187.43,276.67 188.50,279.80 188.70,281.80 C188.90,283.80 188.55,284.68 187.80,286.20 C187.05,287.72 185.43,289.17 184.20,290.90 C182.97,292.63 181.20,294.78 180.40,296.60 C179.60,298.42 179.33,299.90 179.40,301.80 C179.47,303.70 180.08,306.00 180.80,308.00 C181.52,310.00 182.73,312.05 183.70,313.80 C184.67,315.55 186.12,317.72 186.60,318.50" fill="none" stroke="#111" stroke-width="1"/>
<path d="M192.10,261.30 C192.55,262.25 193.87,264.85 194.80,267.00 C195.73,269.15 196.87,271.73 197.70,274.20 C198.53,276.67 199.60,279.80 199.80,281.80 C200.00,283.80 199.65,284.68 198.90,286.20 C198.15,287.72 196.53,289.17 195.30,290.90 C194.07,292.63 192.30,294.78 191.50,296.60 C190.70,298.42 190.43,299.90 190.50,301.80 C190.57,303.70 191.18,306.00 191.90,308.00 C192.62,310.00 193.83,312.05 194.80,313.80 C195.77,315.55 197.22,317.72 197.70,318.50" fill="none" stroke="#111" stroke-width="1"/>
<path d="M203.20,261.30 C203.65,262.25 204.97,264.85 205.90,267.00 C206.83,269.15 207.97,271.73 208.80,274.20 C209.63,276.67 210.70,279.80 210.90,281.80 C211.10,283.80 210.75,284.68 210.00,286.20 C209.25,287.72 207.63,289.17 206.40,290.90 C205.17,292.63 203.40,294.78 202.60,296.60 C201.80,298.42 201.53,299.90 201.60,301.80 C201.67,303.70 202.28,306.00 203.00,308.00 C203.72,310.00 204.93,312.05 205.90,313.80 C206.87,315.55 208.32,317.72 208.80,318.50" fill="none" stroke="#111" stroke-width="1"/>
<circle cx="168.6" cy="257.8" r="2.6" fill="#f9b800" stroke="#222" stroke-width="0.8"/>
<circle cx="179.7" cy="257.8" r="2.6" fill="#f9b800" stroke="#222" stroke-width="0.8"/>
<circle cx="190.79999999999998" cy="257.8" r="2.6" fill="#f9b800" stroke="#222" stroke-width="0.8"/>
<circle cx="201.89999999999998" cy="257.8" r="2.6" fill="#f9b800" stroke="#222" stroke-width="0.8"/>
<path d="M243.30,258.70 C244.58,260.15 248.65,263.40 251.00,267.40 C253.35,271.40 256.87,277.60 257.40,282.70 C257.93,287.80 252.83,292.53 254.20,298.00 C255.57,303.47 263.70,312.58 265.60,315.50" fill="none" stroke="#111" stroke-width="1"/>
<path d="M242.60,289.90 C245.17,288.80 254.07,284.73 258.00,283.30 C261.93,281.87 263.75,281.40 266.20,281.30 C268.65,281.20 270.57,281.75 272.70,282.70 C274.83,283.65 277.35,285.92 279.00,287.00 C280.65,288.08 281.05,288.78 282.60,289.20 C284.15,289.62 286.20,289.75 288.30,289.50 C290.40,289.25 292.73,288.72 295.20,287.70 C297.67,286.68 301.78,284.12 303.10,283.40" fill="none" stroke="#111" stroke-width="1"/>
<path d="M303.10,283.40 C303.57,282.23 304.72,279.25 305.90,276.40 C307.08,273.55 309.48,267.98 310.20,266.30" fill="none" stroke="#111" stroke-width="1"/>
<path d="M260.50,270.50 C262.32,271.22 268.32,273.17 271.40,274.80 C274.48,276.43 277.37,278.30 279.00,280.30 C280.63,282.30 280.65,284.53 281.20,286.80 C281.75,289.07 281.33,291.85 282.30,293.90 C283.27,295.95 284.05,297.15 287.00,299.10 C289.95,301.05 296.38,303.90 300.00,305.60 C303.62,307.30 307.25,308.68 308.70,309.30" fill="none" stroke="#111" stroke-width="1"/>
<path d="M303.10,283.40 C302.67,284.38 301.82,287.75 300.50,289.30 C299.18,290.85 297.23,291.95 295.20,292.70 C293.17,293.45 290.42,293.50 288.30,293.80 C286.18,294.10 284.37,293.53 282.50,294.50 C280.63,295.47 278.63,297.47 277.10,299.60 C275.57,301.73 274.25,304.78 273.30,307.30 C272.35,309.82 271.72,313.47 271.40,314.70" fill="none" stroke="#111" stroke-width="1"/>
<circle cx="243.3" cy="258.7" r="2.6" fill="#f9b800" stroke="#222" stroke-width="0.8"/>
<circle cx="242.6" cy="289.9" r="2.6" fill="#f9b800" stroke="#222" stroke-width="0.8"/>
<circle cx="310.2" cy="266.3" r="2.6" fill="#f9b800" stroke="#222" stroke-width="0.8"/>
<circle cx="308.7" cy="309.3" r="2.6" fill="#f9b800" stroke="#222" stroke-width="0.8"/>
<path d="M347.00,309.30 C347.43,307.42 348.95,300.55 349.60,298.00 C350.25,295.45 350.23,296.02 350.90,294.00 C351.57,291.98 352.47,287.93 353.60,285.90 C354.73,283.87 356.10,282.77 357.70,281.80 C359.30,280.83 361.15,280.67 363.20,280.10 C365.25,279.53 368.08,279.25 370.00,278.40 C371.92,277.55 373.23,276.93 374.70,275.00 C376.17,273.07 377.82,269.75 378.80,266.80 C379.78,263.85 380.30,258.88 380.60,257.30" fill="none" stroke="#111" stroke-width="1"/>
<path d="M360.10,315.40 C359.25,313.77 356.57,308.67 355.00,305.60 C353.43,302.53 351.62,299.27 350.70,297.00 C349.78,294.73 349.47,293.85 349.50,292.00 C349.53,290.15 349.98,288.05 350.90,285.90 C351.82,283.75 353.92,281.15 355.00,279.10 C356.08,277.05 357.40,275.88 357.40,273.60 C357.40,271.32 356.42,268.47 355.00,265.40 C353.58,262.33 349.92,256.90 348.90,255.20" fill="none" stroke="#111" stroke-width="1"/>
<path d="M374.70,308.90 C373.78,307.80 370.78,304.78 369.20,302.30 C367.62,299.82 366.43,296.73 365.20,294.00 C363.97,291.27 362.13,288.17 361.80,285.90 C361.47,283.63 362.40,282.57 363.20,280.40 C364.00,278.23 365.77,274.93 366.60,272.90 C367.43,270.87 368.55,270.58 368.20,268.20 C367.85,265.82 366.13,261.63 364.50,258.60 C362.87,255.57 359.42,251.43 358.40,250.00" fill="none" stroke="#111" stroke-width="1"/>
<path d="M387.80,312.50 C387.90,311.42 388.12,308.15 388.40,306.00 C388.68,303.85 388.67,302.10 389.50,299.60 C390.33,297.10 391.80,293.22 393.40,291.00 C395.00,288.78 396.88,287.47 399.10,286.30 C401.32,285.13 404.63,284.97 406.70,284.00 C408.77,283.03 410.22,282.35 411.50,280.50 C412.78,278.65 413.67,275.43 414.40,272.90 C415.13,270.37 415.53,267.27 415.90,265.30 C416.27,263.33 416.48,261.80 416.60,261.10" fill="none" stroke="#111" stroke-width="1"/>
<circle cx="347" cy="309.3" r="2.6" fill="#f9b800" stroke="#222" stroke-width="0.8"/>
<circle cx="360.1" cy="315.4" r="2.6" fill="#f9b800" stroke="#222" stroke-width="0.8"/>
<circle cx="374.7" cy="308.9" r="2.6" fill="#f9b800" stroke="#222" stroke-width="0.8"/>
<circle cx="386.7" cy="315.4" r="2.6" fill="#f9b800" stroke="#222" stroke-width="0.8"/>
<path d="M440.10,312.80 C439.65,311.85 438.33,309.25 437.40,307.10 C436.47,304.95 435.33,302.37 434.50,299.90 C433.67,297.43 432.60,294.30 432.40,292.30 C432.20,290.30 432.55,289.42 433.30,287.90 C434.05,286.38 435.67,284.93 436.90,283.20 C438.13,281.47 439.90,279.32 440.70,277.50 C441.50,275.68 441.77,274.20 441.70,272.30 C441.63,270.40 441.02,268.10 440.30,266.10 C439.58,264.10 438.37,262.05 437.40,260.30 C436.43,258.55 434.98,256.38 434.50,255.60" fill="none" stroke="#111" stroke-width="1"/>
<path d="M451.30,312.80 C450.85,311.85 449.53,309.25 448.60,307.10 C447.67,304.95 446.53,302.37 445.70,299.90 C444.87,297.43 443.80,294.30 443.60,292.30 C443.40,290.30 443.75,289.42 444.50,287.90 C445.25,286.38 446.87,284.93 448.10,283.20 C449.33,281.47 451.10,279.32 451.90,277.50 C452.70,275.68 452.97,274.20 452.90,272.30 C452.83,270.40 452.22,268.10 451.50,266.10 C450.78,264.10 449.57,262.05 448.60,260.30 C447.63,258.55 446.18,256.38 445.70,255.60" fill="none" stroke="#111" stroke-width="1"/>
<path d="M462.50,312.80 C462.05,311.85 460.73,309.25 459.80,307.10 C458.87,304.95 457.73,302.37 456.90,299.90 C456.07,297.43 455.00,294.30 454.80,292.30 C454.60,290.30 454.95,289.42 455.70,287.90 C456.45,286.38 458.07,284.93 459.30,283.20 C460.53,281.47 462.30,279.32 463.10,277.50 C463.90,275.68 464.17,274.20 464.10,272.30 C464.03,270.40 463.42,268.10 462.70,266.10 C461.98,264.10 460.77,262.05 459.80,260.30 C458.83,258.55 457.38,256.38 456.90,255.60" fill="none" stroke="#111" stroke-width="1"/>
<path d="M473.70,312.80 C473.25,311.85 471.93,309.25 471.00,307.10 C470.07,304.95 468.93,302.37 468.10,299.90 C467.27,297.43 466.20,294.30 466.00,292.30 C465.80,290.30 466.15,289.42 466.90,287.90 C467.65,286.38 469.27,284.93 470.50,283.20 C471.73,281.47 473.50,279.32 474.30,277.50 C475.10,275.68 475.37,274.20 475.30,272.30 C475.23,270.40 474.62,268.10 473.90,266.10 C473.18,264.10 471.97,262.05 471.00,260.30 C470.03,258.55 468.58,256.38 468.10,255.60" fill="none" stroke="#111" stroke-width="1"/>
<circle cx="441.4" cy="316.3" r="2.6" fill="#f9b800" stroke="#222" stroke-width="0.8"/>
<circle cx="452.59999999999997" cy="316.3" r="2.6" fill="#f9b800" stroke="#222" stroke-width="0.8"/>
<circle cx="463.79999999999995" cy="316.3" r="2.6" fill="#f9b800" stroke="#222" stroke-width="0.8"/>
<circle cx="475.0" cy="316.3" r="2.6" fill="#f9b800" stroke="#222" stroke-width="0.8"/>
<path d="M540.30,314.60 C539.85,313.65 538.53,311.05 537.60,308.90 C536.67,306.75 535.53,304.17 534.70,301.70 C533.87,299.23 532.80,296.10 532.60,294.10 C532.40,292.10 532.75,291.22 533.50,289.70 C534.25,288.18 535.87,286.73 537.10,285.00 C538.33,283.27 540.10,281.12 540.90,279.30 C541.70,277.48 541.97,276.00 541.90,274.10 C541.83,272.20 541.22,269.90 540.50,267.90 C539.78,265.90 538.57,263.85 537.60,262.10 C536.63,260.35 535.18,258.18 534.70,257.40" fill="none" stroke="#111" stroke-width="1"/>
<circle cx="541.6" cy="318.1" r="2.6" fill="#f9b800" stroke="#222" stroke-width="0.8"/>
<text x="551.5" y="291.6" font-size="10.7">−<tspan dx="0.5">(CH</tspan><tspan font-size="8.3" dy="2.6">2</tspan><tspan dy="-2.6" dx="0.3">)</tspan><tspan font-size="8.3" dy="2.3">15</tspan><tspan dy="-2.3" dx="0.3">CH</tspan><tspan font-size="8.8" dy="2.4" dx="0.4">3</tspan></text>
<text x="551.5" y="320.6" font-size="10.7" letter-spacing="0.15">−<tspan dx="0.5">N(CH</tspan><tspan font-size="8.3" dy="2.4">3</tspan><tspan dy="-2.4" dx="0.3">)</tspan><tspan font-size="8.3" dy="2.4">3</tspan><tspan font-size="6.5" dy="-5.4" dx="0.8">+</tspan></text>
</g>
</svg>
</body></html>
